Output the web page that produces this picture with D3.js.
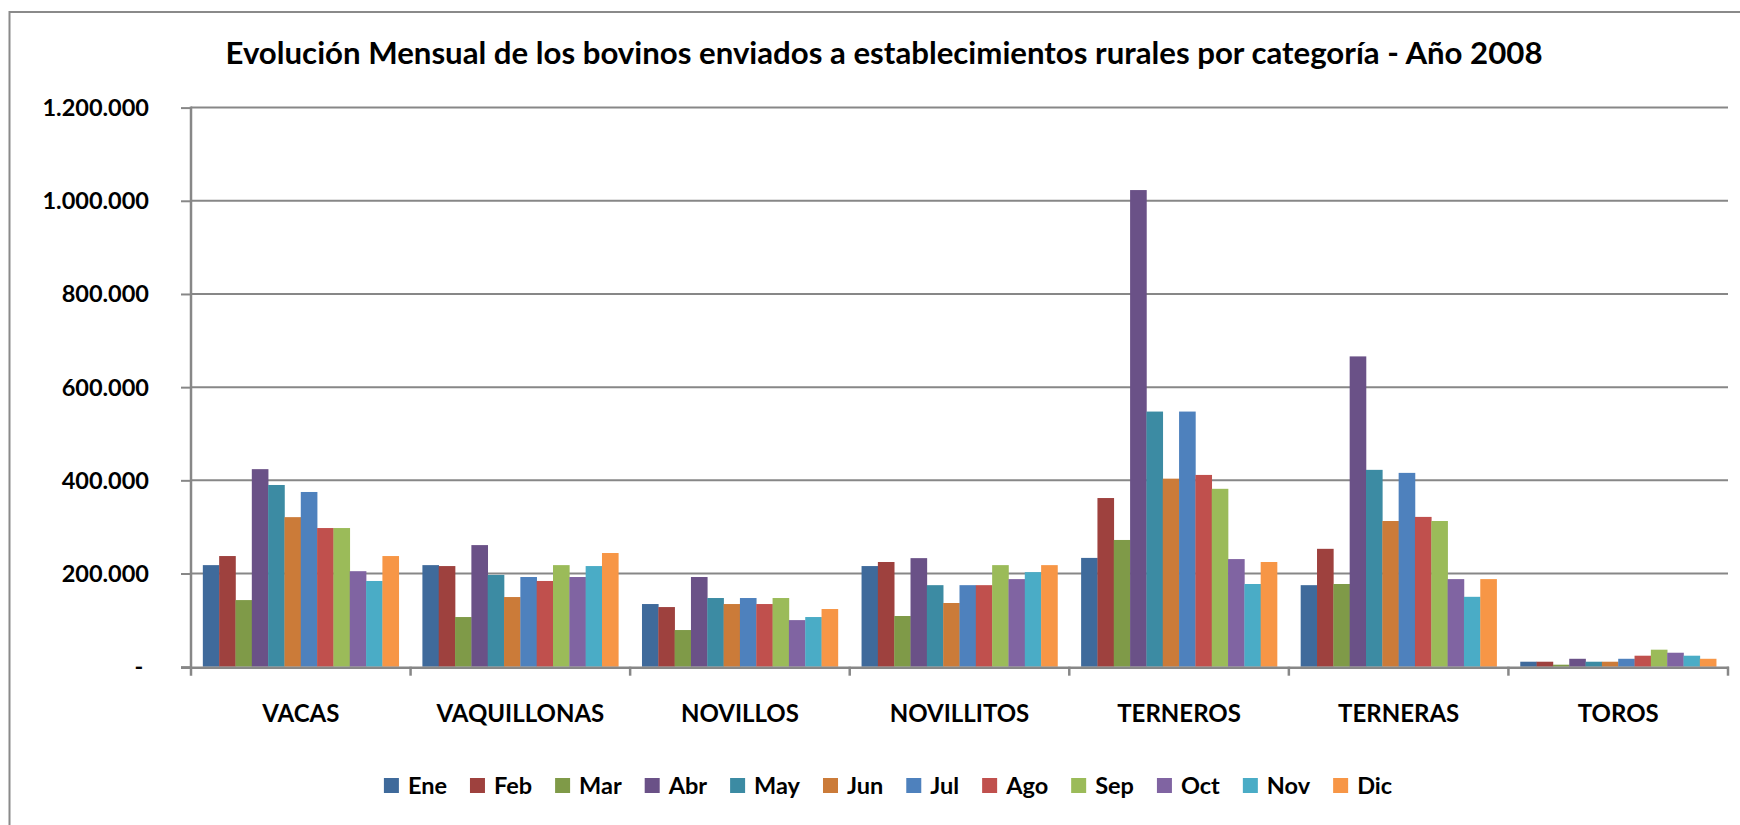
<!DOCTYPE html>
<html><head><meta charset="utf-8">
<script src="https://cdn.jsdelivr.net/npm/d3@7"></script>
<style>
html,body{margin:0;padding:0;background:#fff;}
svg{display:block;}
text{font-family:Lato,"Open Sans",sans-serif;font-weight:bold;fill:#000;}
</style></head>
<body>
<script>
const title = "Evolución Mensual de los bovinos enviados a establecimientos rurales por categoría - Año 2008";
const categories = ["VACAS","VAQUILLONAS","NOVILLOS","NOVILLITOS","TERNEROS","TERNERAS","TOROS"];
const months = ["Ene","Feb","Mar","Abr","May","Jun","Jul","Ago","Sep","Oct","Nov","Dic"];
const colors = ["#3F6A9B","#9E413E","#7F9A48","#6A5187","#3C8BA3","#CB7B39","#4E81BD","#C0504D","#9BBB59","#8064A2","#4AACC6","#F79646"];
const yTicks = [0,200000,400000,600000,800000,1000000,1200000];

const ene = [218000, 218000, 134500, 216000, 233500, 175000, 10700];
const feb = [237500, 216000, 128000, 224700, 362000, 253000, 10700];
const mar = [143000, 106600, 78700, 108800, 272000, 177500, 4300];
const abr = [424000, 261000, 192500, 233000, 1023000, 666000, 17000];
const may = [390000, 197000, 147400, 175000, 547600, 422500, 10700];
const jun = [321000, 149500, 134500, 136700, 403600, 312700, 10700];
const jul = [375000, 192500, 147400, 175000, 547600, 416000, 17000];
const ago = [297600, 184000, 134500, 175000, 411600, 321500, 23600];
const sep = [297600, 218000, 147400, 218000, 381800, 312700, 36500];
const oct = [205000, 192500, 100000, 188000, 231000, 188000, 30000];
const nov = [184000, 216000, 106600, 203000, 177500, 150000, 23600];
const dic = [237500, 244000, 123800, 218000, 224700, 188000, 17000];
const series = [ene,feb,mar,abr,may,jun,jul,ago,sep,oct,nov,dic];

const W = 1740, H = 825;
const plot = {left:191, right:1728, top:107.6, bottom:666.7};
const gridColor = "#878787";

const svg = d3.select("body").append("svg").attr("width",W).attr("height",H);

// outer chart border (extends past the canvas on right/bottom)
svg.append("rect").attr("x",9.5).attr("y",12).attr("width",1760).attr("height",840)
  .attr("fill","none").attr("stroke","#8a8a8a").attr("stroke-width",2);

const y = d3.scaleLinear().domain([0,1200000]).range([plot.bottom, plot.top]);
const x0 = d3.scaleBand().domain(categories).range([plot.left, plot.right]).padding(0);
const bw = x0.bandwidth();
const gap = bw*1.45/13.45;
const x1 = d3.scaleBand().domain(months).range([gap/2, bw-gap/2]).padding(0);

const loc = d3.formatLocale({decimal:",", thousands:".", grouping:[3], currency:["$",""]});
const fmt = loc.format(",d");

// gridlines
svg.append("g").selectAll("line").data(yTicks.filter(d=>d>0)).join("line")
  .attr("x1",plot.left).attr("x2",plot.right)
  .attr("y1",d=>y(d)).attr("y2",d=>y(d))
  .attr("stroke",gridColor).attr("stroke-width",2);

// bars
const groups = svg.append("g").selectAll("g").data(categories).join("g")
  .attr("transform",c=>`translate(${x0(c)},0)`);
groups.selectAll("rect").data((c,ci)=>months.map((m,mi)=>({m,mi,v:series[mi][ci]}))).join("rect")
  .attr("x",d=>x1(d.m)).attr("width",x1.bandwidth()+0.3)
  .attr("y",d=>y(d.v)).attr("height",d=>y(0)-y(d.v))
  .attr("fill",d=>colors[d.mi]);

// y axis
const yAxis = d3.axisLeft(y).tickValues(yTicks).tickSize(10).tickPadding(32)
  .tickFormat(d=>d===0?"-\u00a0":fmt(d));
const gy = svg.append("g").attr("transform",`translate(${plot.left},0)`).call(yAxis);
gy.select(".domain").remove();
gy.selectAll(".tick line").attr("stroke",gridColor).attr("stroke-width",2);
gy.selectAll(".tick text").attr("font-size",23.5).attr("font-family","Lato").attr("font-weight","bold").attr("fill","#000").attr("dy","0.34em");
svg.append("line").attr("x1",plot.left).attr("x2",plot.left).attr("y1",plot.top-1).attr("y2",plot.bottom+9)
  .attr("stroke",gridColor).attr("stroke-width",2.5);

// x axis
svg.append("line").attr("x1",plot.left-10).attr("x2",plot.right+1).attr("y1",plot.bottom+1).attr("y2",plot.bottom+1)
  .attr("stroke",gridColor).attr("stroke-width",2.5);
const bounds = categories.map(c=>x0(c)).concat([plot.right]);
svg.append("g").selectAll("line").data(bounds.slice(1)).join("line")
  .attr("x1",d=>d).attr("x2",d=>d).attr("y1",plot.bottom).attr("y2",plot.bottom+9)
  .attr("stroke",gridColor).attr("stroke-width",2.5);
svg.append("g").selectAll("text").data(categories).join("text")
  .attr("x",c=>x0(c)+bw/2).attr("y",722).attr("text-anchor","middle")
  .attr("font-size",24).text(c=>c);

// title
svg.append("text").attr("x",884).attr("y",63.5).attr("text-anchor","middle")
  .attr("font-size",31.2).text(title);

// legend
const lg = svg.append("g");
const items = lg.selectAll("g").data(months).join("g");
items.append("rect").attr("width",15).attr("height",15).attr("y",778).attr("fill",(d,i)=>colors[i]);
items.append("text").attr("x",24).attr("y",794).attr("font-size",23.5).text(d=>d);
let cx = 0;
items.each(function(d){
  const tw = d3.select(this).select("text").node().getComputedTextLength();
  d3.select(this).attr("transform",`translate(${cx},0)`);
  cx += 24 + tw + 23;
});
const total = cx - 23;
lg.attr("transform",`translate(${888 - total/2},0)`);
</script>
</body></html>
